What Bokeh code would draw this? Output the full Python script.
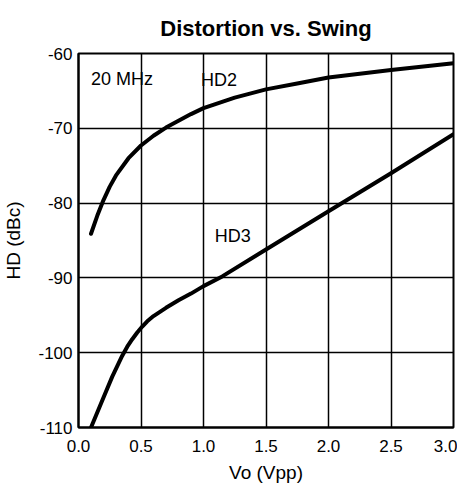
from bokeh.plotting import figure
from bokeh.models import Range1d, FixedTicker, Label, CustomJSTickFormatter
from bokeh.embed import file_html
from bokeh.resources import INLINE

# data
hd2_v = [0.10, 0.15, 0.20, 0.25, 0.30, 0.40, 0.50, 0.60, 0.70, 0.80, 0.90, 1.00,
         1.25, 1.50, 1.75, 2.00, 2.50, 3.00]
hd2_db = [-84.1, -81.7, -79.6, -77.8, -76.3, -74.0, -72.3, -71.0, -69.9, -69.0, -68.1, -67.3,
          -65.9, -64.8, -64.0, -63.2, -62.2, -61.3]
hd3_v = [0.10, 0.20, 0.27, 0.31, 0.35, 0.39, 0.43, 0.47, 0.51, 0.55, 0.60, 0.70, 0.80, 0.90, 1.00,
         1.15, 1.50, 2.00, 2.50, 3.00]
hd3_db = [-110.0, -106.0, -103.2, -101.8, -100.4, -99.2, -98.2, -97.3, -96.5, -95.8, -95.1, -94.0, -93.0, -92.1, -91.1,
          -89.8, -86.2, -81.1, -76.0, -70.8]
x_ticks = [0.0, 0.5, 1.0, 1.5, 2.0, 2.5, 3.0]
y_ticks = [-110, -100, -90, -80, -70, -60]
title_text = "Distortion vs. Swing"

FONT = "Liberation Sans"

p = figure(frame_width=375, frame_height=374, output_backend="svg", toolbar_location=None,
           x_range=Range1d(0, 3), y_range=Range1d(-110, -60),
           min_border_left=78, min_border_right=4, min_border_top=0, min_border_bottom=50,
           title=title_text)
p.title.align = "center"
p.title.text_font = FONT
p.title.text_font_size = "22px"
p.title.text_font_style = "bold"
p.title.text_color = "black"
p.title.standoff = 26

p.outline_line_color = "black"
p.outline_line_width = 2
p.outline_line_alpha = 1

for ax, ticks in ((p.xaxis, x_ticks), (p.yaxis, y_ticks)):
    ax.ticker = FixedTicker(ticks=ticks)
    ax.major_tick_out = 0
    ax.major_tick_in = 0
    ax.minor_tick_out = 0
    ax.minor_tick_in = 0
    ax.axis_line_color = "black"
    ax.axis_line_width = 2
    ax.major_label_text_font = FONT
    ax.major_label_text_font_size = "17px"
    ax.major_label_text_color = "black"
    ax.axis_label_text_font = FONT
    ax.axis_label_text_font_size = "19px"
    ax.axis_label_text_font_style = "normal"
    ax.axis_label_text_color = "black"

p.xaxis.formatter = CustomJSTickFormatter(code="return tick.toFixed(1);")
p.yaxis.formatter = CustomJSTickFormatter(code="return tick.toFixed(0);")
p.xaxis.axis_label = "Vo (Vpp)"
p.yaxis.axis_label = "HD (dBc)"
p.xaxis.major_label_standoff = 12
p.yaxis.major_label_standoff = 6
p.xaxis.axis_label_standoff = 7
p.yaxis.axis_label_standoff = 11

p.grid.grid_line_color = "black"
p.grid.grid_line_width = 1.5
p.grid.grid_line_alpha = 1

p.line(hd2_v, hd2_db, line_color="black", line_width=4, line_join="round", line_cap="round")
p.line(hd3_v, hd3_db, line_color="black", line_width=4, line_join="round", line_cap="round")

for txt, x, y in (("20 MHz", 0.10, -63.4), ("HD2", 0.98, -63.5), ("HD3", 1.09, -84.4)):
    p.add_layout(Label(x=x, y=y, text=txt, text_font=FONT, text_font_size="18px",
                       text_color="black", text_baseline="middle", text_align="left"))

open("out.html", "w").write(file_html(p, INLINE))
